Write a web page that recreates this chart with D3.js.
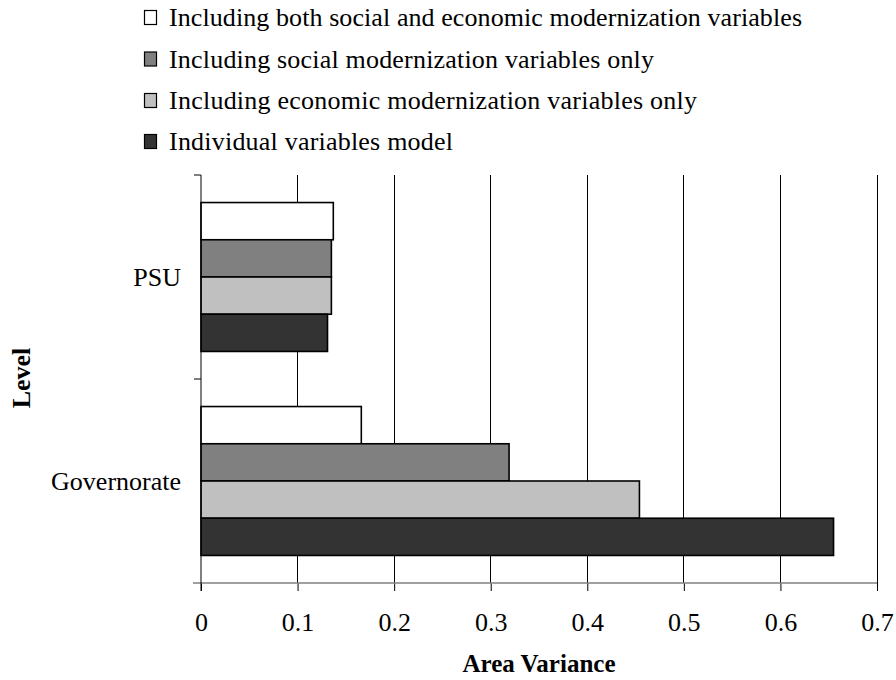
<!DOCTYPE html>
<html>
<head>
<meta charset="utf-8">
<script src="https://cdn.jsdelivr.net/npm/d3@7"></script>
<style>
  html, body { margin: 0; padding: 0; background: #fff; }
  svg { display: block; }
  svg text { font-family: "Liberation Serif", "Times New Roman", Times, serif; fill: #000; }
</style>
</head>
<body>
<svg id="chart" width="896" height="680"></svg>
<script>
// ---- data ----
const categories = ["PSU", "Governorate"];
const seriesNames = [
  "Including both social and economic modernization variables",
  "Including social modernization variables only",
  "Including economic modernization variables only",
  "Individual variables model"
];
const bothValues       = [0.137, 0.166];
const socialValues     = [0.135, 0.319];
const economicValues   = [0.135, 0.454];
const individualValues = [0.131, 0.655];
const xTicks = [0, 0.1, 0.2, 0.3, 0.4, 0.5, 0.6, 0.7];
const seriesColors = ["#ffffff", "#808080", "#c0c0c0", "#333333"];

const seriesValues = [bothValues, socialValues, economicValues, individualValues];

const FONT = "'Liberation Serif', 'Times New Roman', Times, serif";

// ---- layout ----
const svg = d3.select("#chart");
const plot = { left: 201, right: 877, top: 175, bottom: 583 };

const x = d3.scaleLinear().domain([0, 0.7]).range([plot.left, plot.right]);
const y = d3.scaleBand().domain(categories).range([plot.top, plot.bottom]).padding(0);
const gapFrac = 0.135;
const ySub = d3.scaleBand().domain(d3.range(seriesNames.length))
  .range([y.bandwidth() * gapFrac, y.bandwidth() * (1 - gapFrac)]).padding(0);

// gridlines
svg.append("g").selectAll("line").data(xTicks.filter(d => d > 0)).join("line")
  .attr("x1", d => x(d)).attr("x2", d => x(d))
  .attr("y1", plot.top).attr("y2", plot.bottom)
  .attr("stroke", "#000").attr("stroke-width", 1).attr("shape-rendering", "crispEdges");

// bars
const rows = [];
categories.forEach((c, ci) => {
  seriesValues.forEach((vals, si) => rows.push({ c, si, v: vals[ci] }));
});
svg.append("g").selectAll("rect").data(rows).join("rect")
  .attr("x", x(0))
  .attr("y", d => y(d.c) + ySub(d.si))
  .attr("width", d => x(d.v) - x(0))
  .attr("height", ySub.bandwidth())
  .attr("fill", d => seriesColors[d.si])
  .attr("stroke", "#000").attr("stroke-width", 1.6);

// x axis
const xAxis = d3.axisBottom(x).tickValues(xTicks).tickFormat(d => d === 0 ? "0" : d3.format(".1f")(d))
  .tickSize(8).tickSizeOuter(0);
const gx = svg.append("g").attr("transform", `translate(0,${plot.bottom})`).call(xAxis)
  .attr("font-family", FONT).attr("font-size", 26);
gx.select(".domain").remove();
gx.selectAll(".tick line").attr("stroke", "#000");
gx.selectAll(".tick text").attr("dy", null).attr("y", 48);
svg.append("line").attr("x1", plot.left - 8).attr("x2", plot.right)
  .attr("y1", plot.bottom).attr("y2", plot.bottom)
  .attr("stroke", "#808080").attr("stroke-width", 1.5);

// y axis
svg.append("line").attr("x1", plot.left).attr("x2", plot.left)
  .attr("y1", plot.top).attr("y2", plot.bottom + 8)
  .attr("stroke", "#000").attr("stroke-width", 1);
const yTicks = [plot.top, y(categories[1])];
svg.append("g").selectAll("line").data(yTicks).join("line")
  .attr("x1", plot.left - 7).attr("x2", plot.left)
  .attr("y1", d => d).attr("y2", d => d)
  .attr("stroke", "#000").attr("stroke-width", 1);
svg.append("g").selectAll("text").data(categories).join("text")
  .attr("x", 181)
  .attr("y", d => y(d) + y.bandwidth() / 2 + 9)
  .attr("text-anchor", "end")
  .attr("font-family", FONT).attr("font-size", 26)
  .text(d => d);

// axis titles
svg.append("text").attr("x", 539).attr("y", 672).attr("text-anchor", "middle")
  .attr("font-family", FONT).attr("font-size", 25).attr("font-weight", "bold").text("Area Variance");
svg.append("text").attr("transform", "translate(30,378) rotate(-90)").attr("text-anchor", "middle")
  .attr("font-family", FONT).attr("font-size", 26).attr("font-weight", "bold").text("Level");

// legend
const legY = [26, 67.5, 109, 150];
const legW = [633, 485, 528, 284];
const leg = svg.append("g").selectAll("g").data(seriesNames).join("g")
  .attr("transform", (d, i) => `translate(144,${legY[i]})`);
leg.append("rect").attr("x", 0.5).attr("y", -15.5).attr("width", 12).attr("height", 14)
  .attr("fill", (d, i) => seriesColors[i]).attr("stroke", "#000").attr("stroke-width", 1.2);
leg.append("text").attr("x", 25).attr("y", 0)
  .attr("font-family", FONT).attr("font-size", 26)
  .attr("textLength", (d, i) => legW[i]).attr("lengthAdjust", "spacing")
  .text(d => d);
</script>
</body>
</html>
